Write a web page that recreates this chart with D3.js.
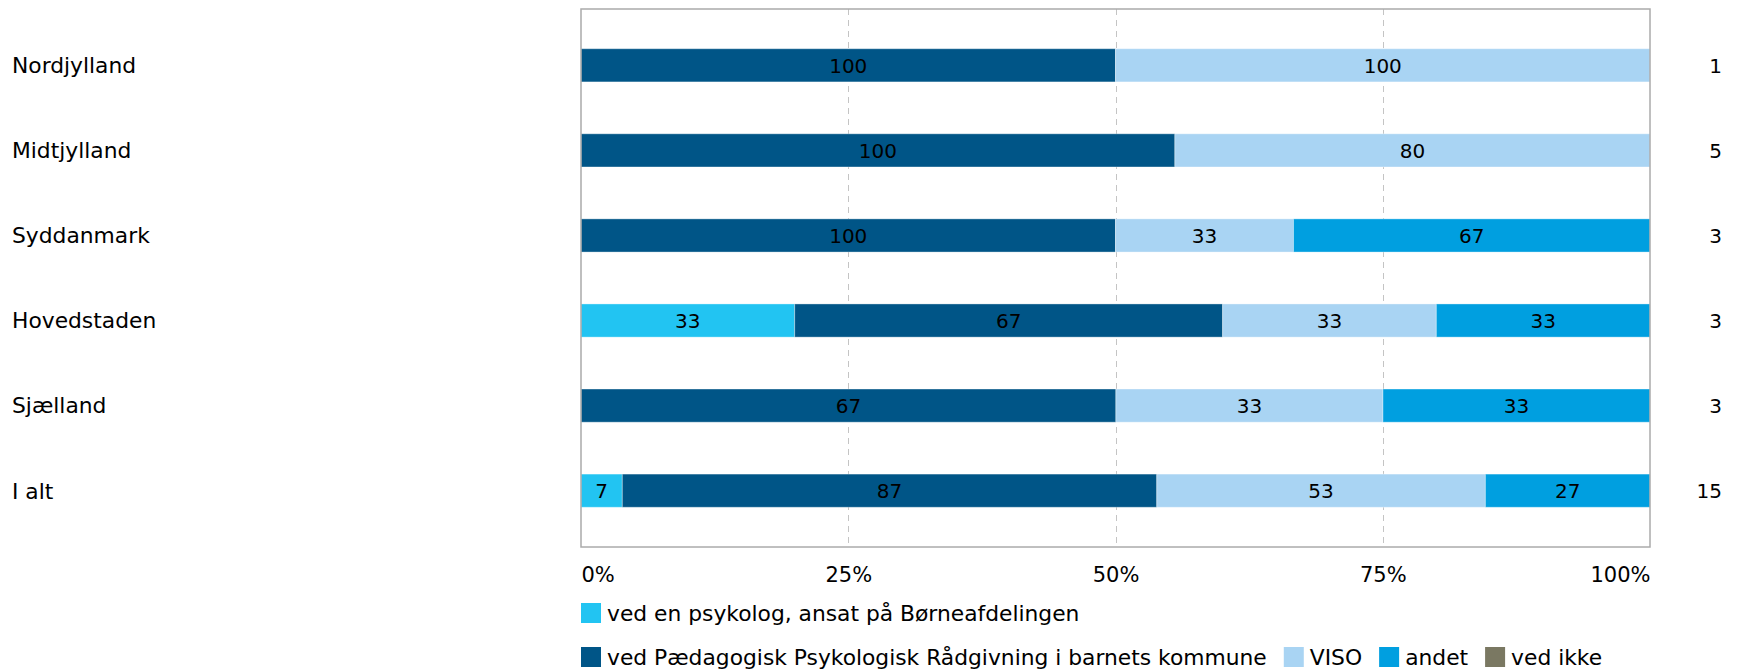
<!DOCTYPE html>
<html>
<head>
<meta charset="utf-8">
<script src="https://cdn.jsdelivr.net/npm/d3@7"></script>
<style>
  body { margin: 0; background: #fff; }
  text { font-family: Verdana, 'DejaVu Sans', sans-serif; fill: #000; }
</style>
</head>
<body>
<div id="chart"></div>
<script>
/* Data */
const regions = ['Nordjylland', 'Midtjylland', 'Syddanmark', 'Hovedstaden', 'Sjælland', 'I alt'];
const counts = [1, 5, 3, 3, 3, 15];

const seriesNames = [
  'ved en psykolog, ansat på Børneafdelingen',
  'ved Pædagogisk Psykologisk Rådgivning i barnets kommune',
  'VISO',
  'andet',
  'ved ikke',
];
// percent of respondents (shown rounded in the labels)
const psykolog = [0, 0, 0, 33.3, 0, 6.7];
const ppr = [100, 100, 100, 66.7, 66.7, 86.7];
const viso = [100, 80, 33.3, 33.3, 33.3, 53.3];
const andet = [0, 0, 66.7, 33.3, 33.3, 26.7];
const vedIkke = [0, 0, 0, 0, 0, 0];

const tickValues = [0, 0.25, 0.5, 0.75, 1];
const colors = ['#22c4f2', '#005587', '#a9d4f3', '#009fe0', '#7a7862'];

/* Global variables */
const width = 1740;
const height = 670;
const labelSize = 20;
const textSize = 21.8;

const plot = { left: 581, right: 1650, top: 9, bottom: 547 };

const allSeries = [psykolog, ppr, viso, andet, vedIkke];
const table = regions.map((r, i) => {
  const row = { region: r, n: counts[i] };
  seriesNames.forEach((s, j) => (row[s] = allSeries[j][i]));
  return row;
});

const stacked = d3
  .stack()
  .keys(seriesNames)
  .offset(d3.stackOffsetExpand)(table);

const color = d3.scaleOrdinal().domain(seriesNames).range(colors);

const x = d3.scaleLinear().domain([0, 1]).range([plot.left, plot.right]);

const y = d3
  .scaleBand()
  .domain(regions)
  .range([plot.top, plot.bottom])
  .paddingInner(0.61)
  .paddingOuter(0.467);

const svg = d3
  .select('#chart')
  .append('svg')
  .attr('width', width)
  .attr('height', height)
  .style('font-size', labelSize + 'px');

// Grid lines
svg
  .append('g')
  .selectAll('line')
  .data(tickValues.slice(1, -1))
  .join('line')
  .attr('x1', (d) => Math.round(x(d)) + 0.5)
  .attr('x2', (d) => Math.round(x(d)) + 0.5)
  .attr('y1', plot.top)
  .attr('y2', plot.bottom)
  .attr('stroke', '#c4c4c4')
  .attr('stroke-width', 1)
  .attr('stroke-dasharray', '6,5');

// Bars
const layers = svg
  .append('g')
  .selectAll('g')
  .data(stacked)
  .join('g')
  .attr('fill', (d) => color(d.key));

layers
  .selectAll('rect')
  .data((d) => d.filter((v) => v[1] - v[0] > 0))
  .join('rect')
  .attr('x', (d) => x(d[0]))
  .attr('width', (d) => x(d[1]) - x(d[0]))
  .attr('y', (d) => y(d.data.region))
  .attr('height', y.bandwidth())
  .attr('stroke', 'rgba(255,255,255,0.35)')
  .attr('stroke-width', 1);

// Value labels
layers
  .selectAll('text')
  .data((d) =>
    d.filter((v) => v[1] - v[0] > 0).map((v) => ({ v, key: d.key }))
  )
  .join('text')
  .attr('x', (d) => (x(d.v[0]) + x(d.v[1])) / 2)
  .attr('y', (d) => y(d.v.data.region) + y.bandwidth() / 2)
  .attr('dy', '0.36em')
  .attr('text-anchor', 'middle')
  .text((d) => d3.format('.0f')(d.v.data[d.key]));

// Plot frame
svg
  .append('rect')
  .attr('x', plot.left)
  .attr('y', plot.top)
  .attr('width', plot.right - plot.left)
  .attr('height', plot.bottom - plot.top)
  .attr('fill', 'none')
  .attr('stroke', '#ababab')
  .attr('stroke-width', 1.5);

// Region labels
svg
  .append('g')
  .selectAll('text')
  .data(regions)
  .join('text')
  .attr('x', 12)
  .attr('y', (d) => y(d) + y.bandwidth() / 2)
  .attr('dy', '0.36em')
  .style('font-size', textSize + 'px')
  .text((d) => d);

// Counts on the right
svg
  .append('g')
  .selectAll('text')
  .data(table)
  .join('text')
  .attr('x', 1722)
  .attr('y', (d) => y(d.region) + y.bandwidth() / 2)
  .attr('dy', '0.36em')
  .attr('text-anchor', 'end')
  .text((d) => d.n);

// X axis
const xAxis = svg
  .append('g')
  .attr('transform', `translate(0, ${plot.bottom})`)
  .call(
    d3
      .axisBottom(x)
      .tickValues(tickValues)
      .tickFormat(d3.format('.0%'))
      .tickSize(0)
      .tickPadding(20)
  );
xAxis.select('.domain').remove();
xAxis
  .selectAll('text')
  .attr('font-size', 21)
  .attr('font-family', null)
  .attr('fill', '#000')
  .attr('text-anchor', (d, i) =>
    i == 0 ? 'start' : i == tickValues.length - 1 ? 'end' : 'middle'
  );

// Legend (wraps onto two rows)
const legendRows = [[0], [1, 2, 3, 4]];
const swatch = 20;
legendRows.forEach((row, r) => {
  const g = svg
    .append('g')
    .attr('transform', `translate(${plot.left}, ${603 + r * 44})`);
  let cx = 0;
  row.forEach((k) => {
    const item = g.append('g').attr('transform', `translate(${cx}, 0)`);
    item
      .append('rect')
      .attr('width', swatch)
      .attr('height', swatch)
      .attr('fill', colors[k]);
    const t = item
      .append('text')
      .attr('x', swatch + 6)
      .attr('y', swatch / 2)
      .attr('dy', '0.36em')
      .style('font-size', textSize + 'px')
      .text(seriesNames[k]);
    cx += swatch + 6 + t.node().getComputedTextLength() + 17;
  });
});
</script>
</body>
</html>
